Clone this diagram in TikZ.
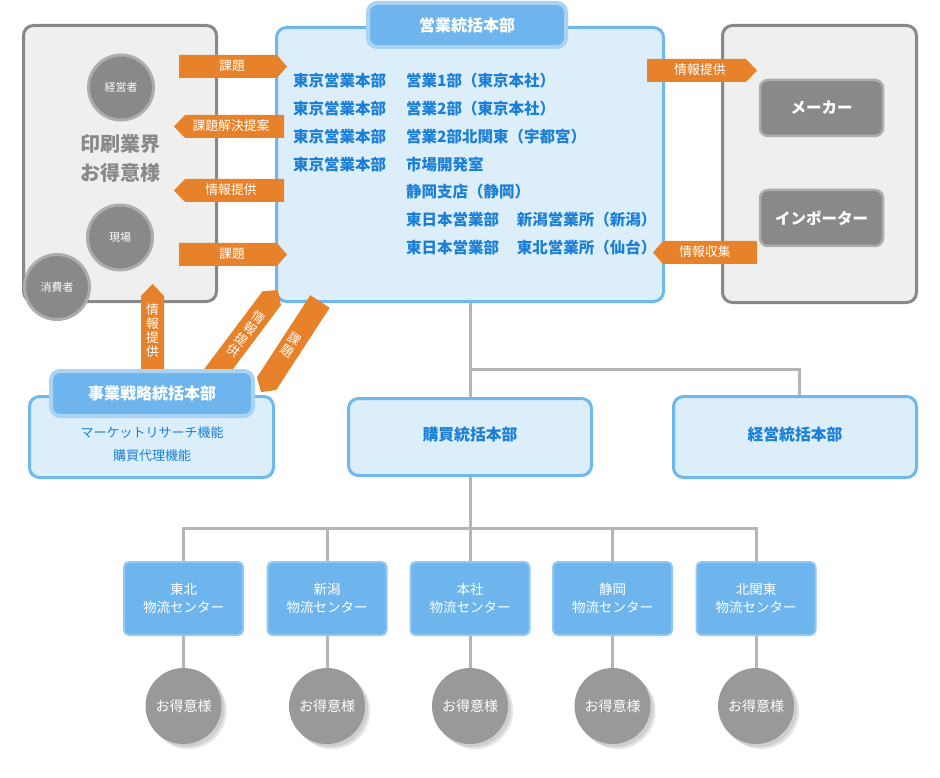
\documentclass[tikz,border=0pt]{standalone}
\usepackage{fontspec}
\setmainfont{Noto Sans CJK JP}
\usetikzlibrary{calc}
\pgfdeclarelayer{background}
\pgfsetlayers{background,main}
\definecolor{org}{HTML}{E8822A}
\definecolor{gbord}{HTML}{888888}
\definecolor{gfill}{HTML}{EFEFEF}
\definecolor{gcirc}{HTML}{898989}
\definecolor{gring}{HTML}{ADADAD}
\definecolor{bbord}{HTML}{6FB8EE}
\definecolor{bfill}{HTML}{DDEEFB}
\definecolor{btab}{HTML}{6DB5EC}
\definecolor{btabring}{HTML}{A9D3F4}
\definecolor{btext}{HTML}{1A7FD6}
\definecolor{cbord}{HTML}{8FC8F1}
\definecolor{lnc}{HTML}{B5B5B5}
\definecolor{ccirc}{HTML}{999999}
\definecolor{cshadowa}{HTML}{E4E4E4}
\definecolor{cshadowb}{HTML}{CFCFCF}
\newcommand\myRarrow[4]{\fill[org] (#1,#4-11.5) -- (#2,#4-11.5) -- (#3,#4) -- (#2,#4+11.5) -- (#1,#4+11.5) -- cycle;}
\newcommand\myLarrow[4]{\fill[org] (#1,#4) -- (#2,#4-11.5) -- (#3,#4-11.5) -- (#3,#4+11.5) -- (#2,#4+11.5) -- cycle;}
\begin{document}
\begin{tikzpicture}[x=1pt,y=-1pt,
  txt/.style={inner sep=0pt, text height=0.88em, text depth=0.12em},
  greybox/.style={draw=gbord, line width=3pt, fill=gfill, rounded corners=10pt, inner sep=0pt},
  bluebox/.style={draw=bbord, line width=3pt, fill=bfill, rounded corners=10pt, inner sep=0pt},
  tabbox/.style={draw=btabring, line width=4pt, fill=btab, rounded corners=9pt, inner sep=0pt, text=white, font=\fontsize{16}{18}\selectfont\bfseries},
  gcircle/.style={circle, draw=gring, line width=3pt, fill=gcirc, inner sep=0pt, minimum size=65pt, text=white, font=\fontsize{11}{13}\selectfont},
  darkbox/.style={draw=gring, line width=2.5pt, fill=gcirc, rounded corners=8pt, minimum width=123pt, minimum height=56pt, text=white, font=\fontsize{15.5}{18}\selectfont\bfseries},
  lcbox/.style={draw=cbord, line width=2pt, fill=btab, rounded corners=5pt, minimum width=119pt, minimum height=73pt, inner sep=0pt, text=white, align=center, font=\fontsize{13.5}{17.5}\selectfont},
  custc/.style={circle, fill=ccirc, minimum size=76pt, inner sep=0pt, text=white, font=\fontsize{14}{16}\selectfont},
  conn/.style={draw=lnc, line width=3pt},
  otext/.style={txt, text=white, font=\fontsize{12.8}{14}\selectfont},
  vtext/.style={inner sep=0pt, text=white, align=center, font=\fontsize{12.8}{14}\selectfont},
  stxt/.style={txt, text=btext, font=\fontsize{15.5}{18}\selectfont\bfseries, anchor=west},
  hdtxt/.style={txt, text=btext, font=\fontsize{15.8}{18}\selectfont\bfseries},
]
\useasboundingbox (0,0) rectangle (940,778);

% main frames
\node[greybox, minimum width=193pt, minimum height=276pt] (clients) at (120,163.5) {};
\node[greybox, minimum width=194pt, minimum height=277pt] (suppliers) at (819.5,164) {};
\node[bluebox, minimum width=387pt, minimum height=274pt] (sales) at (470,164.5) {};
\node[tabbox, minimum width=198pt, minimum height=44pt] (salestab) at (467,25) {営業統括本部};

% sales text
\node[stxt] (r1a) at (293,83) {東京営業本部};
\node[stxt] (r1b) at (406,83) {営業1部（東京本社）};
\node[stxt] (r2a) at (293,110.8) {東京営業本部};
\node[stxt] (r2b) at (406,110.8) {営業2部（東京本社）};
\node[stxt] (r3a) at (293,138.6) {東京営業本部};
\node[stxt] (r3b) at (406,138.6) {営業2部北関東（宇都宮）};
\node[stxt] (r4a) at (293,166.4) {東京営業本部};
\node[stxt] (r4b) at (406,166.4) {市場開発室};
\node[stxt] (r5b) at (406,194.2) {静岡支店（静岡）};
\node[stxt] (r6b) at (406,222) {東日本営業部};
\node[stxt] (r6c) at (516.7,222) {新潟営業所（新潟）};
\node[stxt] (r7b) at (406,249.8) {東日本営業部};
\node[stxt] (r7c) at (516.7,249.8) {東北営業所（仙台）};

% clients contents
\node[txt, text=gcirc, font=\fontsize{20}{24}\selectfont\bfseries] (cl1) at (120,148) {印刷業界};
\node[txt, text=gcirc, font=\fontsize{20}{24}\selectfont\bfseries] (cl2) at (120,177) {お得意様};
\node[gcircle] (ceo) at (121,87.5) {経営者};
\node[gcircle] (floor) at (120,237.5) {現場};
\node[gcircle] (consumer) at (57,287) {消費者};

% suppliers contents
\node[darkbox] (maker) at (821.5,108) {メーカー};
\node[darkbox] (importer) at (821.5,218) {インポーター};

% orange horizontal arrows
\myRarrow{179}{277}{287}{66.5}
\node[otext] (a1) at (232,66.5) {課題};
\myLarrow{174}{185}{284}{126.5}
\node[otext] (a2) at (231,126.5) {課題解決提案};
\myLarrow{174}{185}{284}{190.5}
\node[otext] (a3) at (231,190.5) {情報提供};
\myRarrow{179}{277}{287}{254.5}
\node[otext] (a4) at (232,254.5) {課題};
\myRarrow{647}{746}{757}{70.5}
\node[otext] (a5) at (700,70.5) {情報提供};
\myLarrow{653}{663}{757}{252.5}
\node[otext] (a6) at (705,252.5) {情報収集};

% diagonal and vertical arrows
\fill[org] (200.2,374.4) -- (262.6,291.2) -- (277.8,290.1) -- (281.0,305.0) -- (218.6,388.2) -- cycle;
\node[vtext, rotate=-37] (d1) at (246,334) {情\\報\\提\\供};
\fill[org] (310.35,295.2) -- (329.65,307.8) -- (276.2,390.0) -- (261.1,392.1) -- (256.9,377.4) -- cycle;
\node[vtext, rotate=-33] (d2) at (291,345) {課\\題};
\fill[org] (141,385) -- (141,296) -- (152.5,284) -- (164,296) -- (164,385) -- cycle;
\node[vtext] (v1) at (152.5,331) {情\\報\\提\\供};

% strategy
\node[bluebox, minimum width=244pt, minimum height=81pt] (strategy) at (151.5,437) {};
\node[tabbox, minimum width=202pt, minimum height=45pt] (strattab) at (152,393.5) {事業戦略統括本部};
\node[txt, text=btext, font=\fontsize{13}{15}\selectfont] (mr) at (152,434) {マーケットリサーチ機能};
\node[txt, text=btext, font=\fontsize{13}{15}\selectfont] (pa) at (152,457) {購買代理機能};

% purchase / management
\node[bluebox, minimum width=243pt, minimum height=77pt, hdtxt] (purchase) at (470,437) {購買統括本部};
\node[bluebox, minimum width=243pt, minimum height=81pt, hdtxt] (mgmt) at (795,437) {経営統括本部};

% distribution centres
\node[lcbox] (dc1) at (183.5,598.5) {東北\\物流センター};
\node[lcbox] (dc2) at (327,598.5) {新潟\\物流センター};
\node[lcbox] (dc3) at (470,598.5) {本社\\物流センター};
\node[lcbox] (dc4) at (612.5,598.5) {静岡\\物流センター};
\node[lcbox] (dc5) at (756,598.5) {北関東\\物流センター};

\foreach \i/\xx in {1/183.5,2/327,3/470,4/612.5,5/756}{
  \fill[cshadowa] (\xx+5,711) circle[radius=38pt];
  \fill[cshadowb] (\xx+3,709) circle[radius=38pt];
  \node[custc] (cu\i) at (\xx,706) {お得意様};
}

% connectors
\begin{pgfonlayer}{background}
\coordinate (j1) at (470,369);
\coordinate (j1b) at (799,369);
\coordinate (j2) at (470,528);
\draw[conn] (sales.south) -- (purchase.north);
\draw[conn] (j1) -- (j1b) -- (j1b |- mgmt.north);
\draw[conn] (purchase.south) -- (j2);
\draw[conn] (dc1.north) |- (j2) -| (dc5.north);
\foreach \i in {2,3,4}{\draw[conn] (dc\i.north) -- (dc\i.north |- j2);}
\foreach \i in {1,...,5}{\draw[conn] (dc\i.south) -- (cu\i.north);}
\end{pgfonlayer}
\end{tikzpicture}
\end{document}
